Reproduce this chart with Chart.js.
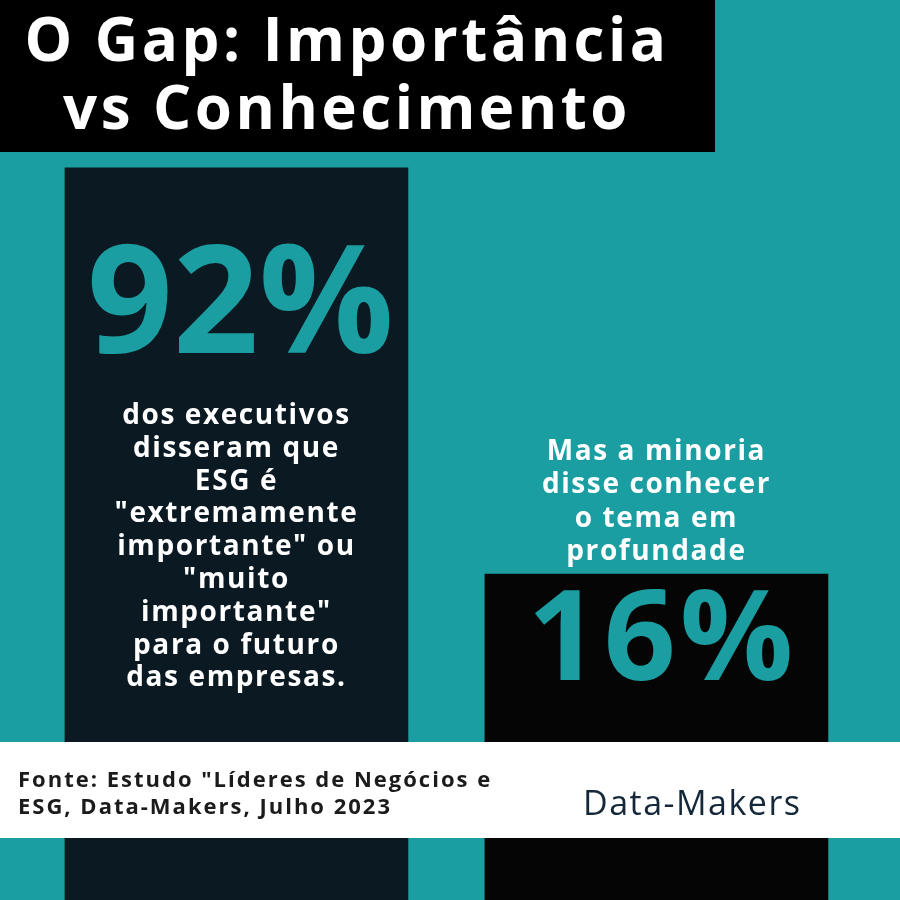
<!DOCTYPE html>
<html>
<head>
<meta charset="utf-8">
<script src="https://cdn.jsdelivr.net/npm/chart.js@4"></script>
<style>
  html, body { margin: 0; padding: 0; background: #1a9ea1; }
  #wrap { width: 900px; height: 900px; position: relative; }
</style>
</head>
<body>
<div id="wrap"><canvas id="chart" width="900" height="900"></canvas></div>
<script>
const positions = [1, 2];
const values = [92, 16];
const bigLabels = ['92%', '16%'];
const leftText = ['dos executivos', 'disseram que', 'ESG é', '"extremamente', 'importante" ou', '"muito', 'importante"', 'para o futuro', 'das empresas.'];
const rightText = ['Mas a minoria', 'disse conhecer', 'o tema em', 'profundade'];
const titleLines = ['O Gap: Importância', 'vs Conhecimento'];
const sourceLines = ['Fonte: Estudo "Líderes de Negócios e', 'ESG, Data-Makers, Julho 2023'];
const brand = 'Data-Makers';

const TEAL = '#1a9ea1';
const FONT = '"Open Sans", sans-serif';
const BASE = -45;

// background, title box, footer band and texts
const decor = {
  id: 'decor',
  beforeDraw(chart) {
    const c = chart.ctx;
    c.save();
    c.fillStyle = TEAL;
    c.fillRect(0, 0, 900, 900);
    c.fillStyle = '#000';
    c.fillRect(0, 0, 715, 152);
    c.fillStyle = '#fff';
    c.textAlign = 'center';
    c.textBaseline = 'middle';
    c.font = 'bold 60px ' + FONT;
    c.letterSpacing = '3.5px';
    c.fillText(titleLines[0], 347, 44);
    c.fillText(titleLines[1], 347, 112);
    c.restore();
  },
  afterDatasetsDraw(chart) {
    const c = chart.ctx;
    const meta = chart.getDatasetMeta(0);
    const x1 = meta.data[0].x, x2 = meta.data[1].x;
    c.save();
    c.textAlign = 'center';
    c.textBaseline = 'middle';
    c.fillStyle = TEAL;
    c.letterSpacing = '0px';
    c.font = 'bold 150px ' + FONT;
    c.fillText(bigLabels[0], x1 + 4, 310);
    c.font = 'bold 126px ' + FONT;
    c.letterSpacing = '4px';
    c.fillText(bigLabels[1], x2 + 6, 644);
    c.fillStyle = '#fff';
    c.font = 'bold 28px ' + FONT;
    c.letterSpacing = '1.6px';
    leftText.forEach((t, i) => c.fillText(t, x1, 416 + i * 32.8));
    rightText.forEach((t, i) => c.fillText(t, x2, 452 + i * 33.5));
    // footer band
    c.fillStyle = '#fff';
    c.fillRect(0, 742, 900, 96);
    c.fillStyle = '#1b1b1b';
    c.textAlign = 'left';
    c.font = 'bold 22px ' + FONT;
    c.letterSpacing = '2px';
    c.fillText(sourceLines[0], 18, 781);
    c.fillText(sourceLines[1], 18, 808);
    c.fillStyle = '#14283a';
    c.font = '34px ' + FONT;
    c.letterSpacing = '1.5px';
    c.fillText(brand, 583, 805);
    c.restore();
  }
};

new Chart(document.getElementById('chart'), {
  type: 'bar',
  data: {
    labels: positions,
    datasets: [{
      data: positions.map((p, i) => ({ x: p, y: [BASE, values[i]] })),
      backgroundColor: ['#0b1a22', '#050505'],
      borderWidth: 0,
      borderSkipped: false,
      barThickness: 343
    }]
  },
  options: {
    responsive: false,
    animation: false,
    layout: { padding: 0 },
    plugins: { legend: { display: false }, tooltip: { enabled: false } },
    scales: {
      x: { type: 'linear', display: false, min: 0.437, max: 2.58, offset: false },
      y: { display: false, min: BASE, max: 123.4 }
    }
  },
  plugins: [decor]
});
</script>
</body>
</html>
